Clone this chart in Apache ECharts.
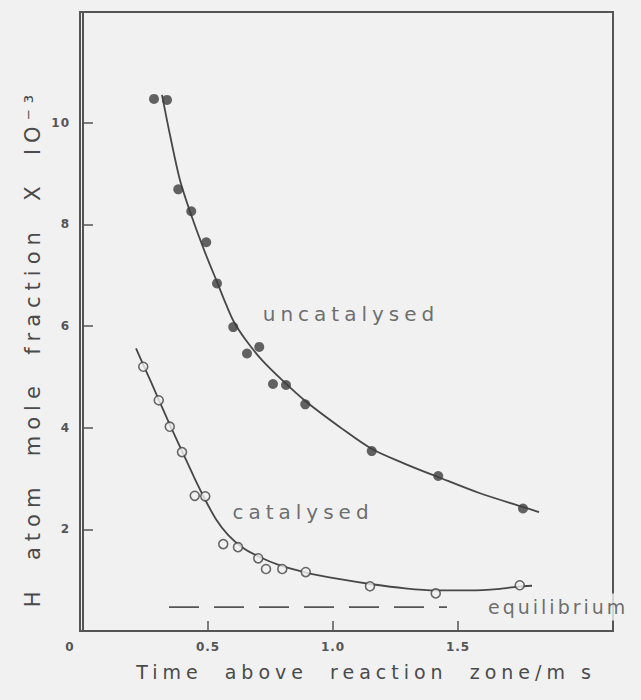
<!DOCTYPE html>
<html>
<head>
<meta charset="utf-8">
<script src="https://cdn.jsdelivr.net/npm/echarts@6/dist/echarts.min.js"></script>
<style>
html, body { margin: 0; padding: 0; background: #f1f1f1; }
#chart { width: 641px; height: 700px; }
</style>
</head>
<body>
<div id="chart"></div>
<script>
// ---- data ----
// filled circles: uncatalysed (time / ms, H atom mole fraction x 10^-3)
const uncatalysedPoints = [
  [0.284, 10.47], [0.336, 10.45], [0.381, 8.69], [0.433, 8.26], [0.493, 7.65],
  [0.536, 6.84], [0.601, 5.98], [0.656, 5.46], [0.705, 5.59], [0.760, 4.86],
  [0.812, 4.84], [0.889, 4.46], [1.155, 3.54], [1.421, 3.05], [1.760, 2.41]
];
// drawn curve through uncatalysed points
const uncatalysedCurve = [
  [0.316, 10.55], [0.348, 9.76], [0.388, 8.87], [0.436, 8.14], [0.488, 7.45],
  [0.540, 6.82], [0.572, 6.43], [0.604, 6.08], [0.652, 5.72], [0.716, 5.33],
  [0.800, 4.92], [0.888, 4.53], [1.028, 4.01], [1.156, 3.58], [1.288, 3.29],
  [1.420, 3.03], [1.588, 2.71], [1.760, 2.44], [1.824, 2.34]
];
// open circles: catalysed
const catalysedPoints = [
  [0.241, 5.20], [0.303, 4.54], [0.347, 4.02], [0.396, 3.52], [0.447, 2.66],
  [0.489, 2.65], [0.561, 1.71], [0.620, 1.65], [0.701, 1.43], [0.732, 1.22],
  [0.797, 1.22], [0.891, 1.16], [1.148, 0.88], [1.411, 0.74], [1.747, 0.90]
];
// drawn curve through catalysed points
const catalysedCurve = [
  [0.212, 5.56], [0.240, 5.25], [0.272, 4.90], [0.304, 4.54], [0.348, 4.05],
  [0.396, 3.54], [0.444, 3.03], [0.488, 2.59], [0.532, 2.20], [0.580, 1.89],
  [0.636, 1.65], [0.700, 1.47], [0.788, 1.29], [0.892, 1.15], [1.028, 1.02],
  [1.156, 0.92], [1.288, 0.84], [1.412, 0.80], [1.548, 0.80], [1.668, 0.83],
  [1.736, 0.87], [1.796, 0.89]
];
// dashed equilibrium level
const equilibriumLine = [[0.344, 0.47], [1.456, 0.47]];

// axes
const xTickValues = [0.5, 1.0, 1.5];
const xLabelValues = [0, 0.5, 1.0, 1.5];
const yTickValues = [2, 4, 6, 8, 10];

// texts
const curveNames = ['uncatalysed', 'catalysed', 'equilibrium'];
const curveNameAnchors = [[1.072, 6.23], [0.880, 2.34], [1.620, 0.47]];
const xTitle = 'Time  above  reaction  zone/m s';
const yTitle = 'H  atom  mole  fraction  X  IO\u207B\u00B3';

// ---- chart ----
const BG = '#f1f1f1';
const INK = '#4a4a4a';
const chart = echarts.init(document.getElementById('chart'), null, { renderer: 'svg' });

const annotationData = curveNames.map((n, i) => ({
  name: n,
  value: curveNameAnchors[i],
  label: i === 2
    ? { position: 'right', distance: 0, fontSize: 19, backgroundColor: BG, padding: [4, 20, 4, 0] }
    : { position: 'inside' }
}));

chart.setOption({
  backgroundColor: BG,
  animation: false,
  grid: {
    left: 80, right: 28, top: 12, bottom: 69,
    show: true, borderColor: '#555', borderWidth: 2, backgroundColor: 'transparent'
  },
  xAxis: {
    type: 'value', min: -0.012, max: 2.12,
    axisLine: { lineStyle: { color: '#555', width: 2 } },
    axisTick: { customValues: xTickValues, inside: true, length: 10, lineStyle: { color: '#555', width: 1.5 } },
    axisLabel: {
      customValues: xLabelValues, margin: 10, color: '#555', fontSize: 12, fontWeight: 'bold',
      fontFamily: 'DejaVu Sans',
      formatter: v => v === 0 ? '{z|0}' : v.toFixed(1),
      rich: { z: { padding: [0, 26, 0, 0], color: '#555', fontSize: 12, fontWeight: 'bold', fontFamily: 'DejaVu Sans' } }
    },
    splitLine: { show: false }
  },
  yAxis: {
    type: 'value', min: 0, max: 12.18,
    axisLine: { show: true, lineStyle: { color: '#555', width: 2 } },
    axisTick: { show: true, customValues: yTickValues, inside: true, length: 10, lineStyle: { color: '#555', width: 1.5 } },
    axisLabel: { customValues: yTickValues, margin: 10, color: '#555', fontSize: 12, fontWeight: 'bold', fontFamily: 'DejaVu Sans' },
    splitLine: { show: false }
  },
  graphic: [
    {
      type: 'text', x: 366, y: 672, silent: true,
      style: { text: xTitle, fill: INK, font: '19px "DejaVu Sans"', align: 'center', verticalAlign: 'middle' }
    },
    {
      type: 'text', x: 33, y: 348, rotation: Math.PI / 2, silent: true,
      style: { text: yTitle, fill: INK, font: '21px "DejaVu Sans"', align: 'center', verticalAlign: 'middle' }
    }
  ],
  series: [
    {
      type: 'line', data: uncatalysedCurve, smooth: 0.3, symbol: 'none',
      lineStyle: { color: '#474747', width: 1.8 }, z: 2, silent: true
    },
    {
      type: 'scatter', data: uncatalysedPoints, symbol: 'circle', symbolSize: 10,
      itemStyle: { color: '#3d3d3d' }, z: 3, silent: true
    },
    {
      type: 'line', data: catalysedCurve, smooth: 0.3, symbol: 'none',
      lineStyle: { color: '#474747', width: 1.8 }, z: 2, silent: true
    },
    {
      type: 'scatter', data: catalysedPoints, symbol: 'circle', symbolSize: 9,
      itemStyle: { color: BG, borderColor: '#444', borderWidth: 1.6 }, z: 3, silent: true
    },
    {
      type: 'line', data: equilibriumLine, symbol: 'none',
      lineStyle: { color: '#555', width: 1.8, type: [30, 15] }, z: 2, silent: true
    },
    {
      type: 'scatter', data: annotationData, symbolSize: 0, z: 5, silent: true,
      label: {
        show: true, formatter: p => p.name, color: INK, fontSize: 20, fontFamily: 'DejaVu Sans'
      }
    }
  ]
});

function applySpacing() {
  const spacing = {
    'uncatalysed': '5px', 'catalysed': '5px', 'equilibrium': '3px'
  };
  spacing[xTitle] = '5px';
  spacing[yTitle] = '6px';
  document.querySelectorAll('#chart svg text').forEach(t => {
    const s = spacing[t.textContent];
    t.style.letterSpacing = s ? s : '1px';
  });
}
chart.on('finished', applySpacing);
applySpacing();
</script>
</body>
</html>
